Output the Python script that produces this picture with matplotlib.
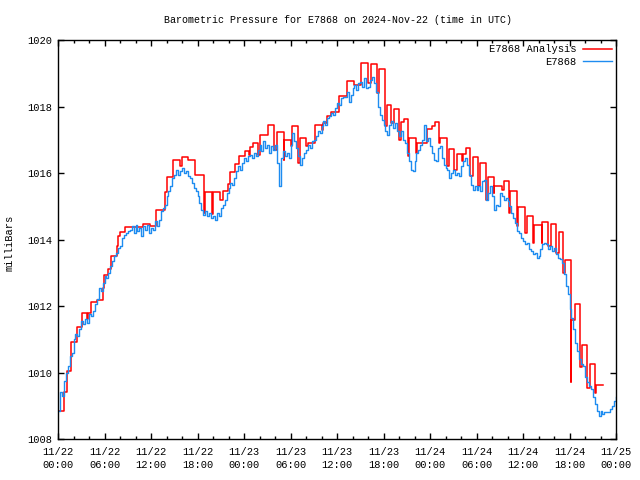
import numpy as np
import matplotlib

matplotlib.use("Agg")
import matplotlib.pyplot as plt
from matplotlib.ticker import FixedLocator, MultipleLocator

TITLE = "Barometric Pressure for E7868 on 2024-Nov-22 (time in UTC)"
LABEL_OBS = "E7868"
LABEL_ANA = "E7868 Analysis"

# x axis: hours since 2024-11-22 00:00 UTC
tick_hours = [0, 6, 12, 18, 24, 30, 36, 42, 48, 54, 60, 66, 72]
tick_labels = [
    "11/22\n00:00", "11/22\n06:00", "11/22\n12:00", "11/22\n18:00",
    "11/23\n00:00", "11/23\n06:00", "11/23\n12:00", "11/23\n18:00",
    "11/24\n00:00", "11/24\n06:00", "11/24\n12:00", "11/24\n18:00",
    "11/25\n00:00",
]

# station readings, one every 15 min (4 per row = 1 hour)
obs_step_h = 0.25
obs_mb = [
    1008.85, 1009.40, 1009.30, 1009.75,  # 00h
    1010.00, 1010.20, 1010.50, 1010.60,
    1011.00, 1011.15, 1011.10, 1011.30,
    1011.55, 1011.45, 1011.60, 1011.50,
    1011.75, 1011.70, 1011.85, 1012.05,
    1012.20, 1012.55, 1012.45, 1012.70,
    1012.90, 1012.85, 1013.00, 1013.20,  # 06h
    1013.35, 1013.50, 1013.60, 1013.75,
    1013.80, 1014.05, 1014.15, 1014.20,
    1014.25, 1014.30, 1014.40, 1014.20,
    1014.45, 1014.25, 1014.35, 1014.10,
    1014.40, 1014.30, 1014.45, 1014.20,
    1014.35, 1014.30, 1014.55, 1014.40,  # 12h
    1014.60, 1014.85, 1014.95, 1015.05,
    1015.30, 1015.45, 1015.60, 1015.85,
    1015.95, 1016.10, 1015.95, 1016.05,
    1016.15, 1016.00, 1016.05, 1015.90,
    1015.85, 1015.70, 1015.55, 1015.45,
    1015.30, 1015.10, 1014.90, 1014.75,  # 18h
    1014.85, 1014.70, 1014.80, 1014.65,
    1014.70, 1014.60, 1014.80, 1014.70,
    1014.95, 1015.05, 1015.20, 1015.40,
    1015.55, 1015.70, 1015.65, 1015.85,
    1016.05, 1016.20, 1016.10, 1016.30,
    1016.45, 1016.35, 1016.50, 1016.55,  # 24h
    1016.45, 1016.60, 1016.50, 1016.70,
    1016.85, 1016.65, 1016.95, 1016.75,
    1016.85, 1016.60, 1016.80, 1016.70,
    1016.85, 1016.30, 1015.60, 1016.45,
    1016.65, 1016.50, 1016.60, 1016.45,
    1016.85, 1017.20, 1016.95, 1016.75,  # 30h
    1016.50, 1016.25, 1016.45, 1016.60,
    1016.70, 1016.85, 1016.75, 1016.95,
    1017.00, 1017.10, 1017.25, 1017.20,
    1017.40, 1017.55, 1017.45, 1017.65,
    1017.70, 1017.80, 1017.75, 1017.95,
    1018.10, 1018.05, 1018.25, 1018.30,  # 36h
    1018.30, 1018.45, 1018.15, 1018.35,
    1018.55, 1018.65, 1018.50, 1018.70,
    1018.75, 1018.60, 1018.85, 1018.55,
    1018.60, 1018.80, 1018.90, 1018.70,
    1018.45, 1018.00, 1017.75, 1017.60,
    1017.45, 1017.25, 1017.15, 1017.45,  # 42h
    1017.55, 1017.35, 1017.50, 1017.25,
    1017.10, 1017.25, 1017.00, 1016.90,
    1016.60, 1016.35, 1016.10, 1016.05,
    1016.35, 1016.60, 1016.70, 1016.85,
    1017.00, 1017.45, 1016.95, 1017.05,
    1016.80, 1016.60, 1016.40, 1016.35,  # 48h
    1016.75, 1016.80, 1016.45, 1016.25,
    1016.15, 1016.10, 1015.85, 1016.00,
    1016.10, 1015.95, 1016.00, 1015.90,
    1016.20, 1016.35, 1016.45, 1016.25,
    1015.95, 1015.65, 1015.50, 1015.60,
    1015.50, 1015.60, 1015.45, 1015.75,  # 54h
    1015.80, 1015.20, 1015.40, 1015.60,
    1015.30, 1014.90, 1015.05, 1015.00,
    1015.40, 1015.30, 1015.20, 1015.25,
    1015.15, 1015.00, 1014.80, 1014.65,
    1014.50, 1014.25, 1014.20, 1014.05,
    1013.95, 1013.85, 1013.90, 1013.70,  # 60h
    1013.65, 1013.55, 1013.60, 1013.45,
    1013.50, 1013.70, 1013.85, 1013.90,
    1013.85, 1013.70, 1013.80, 1013.65,
    1013.75, 1013.55, 1013.45, 1013.40,
    1013.30, 1012.95, 1012.60, 1012.35,
    1011.90, 1011.65, 1011.30, 1010.90,  # 66h
    1010.65, 1010.40, 1010.25, 1010.20,
    1009.85, 1009.70, 1009.60, 1009.50,
    1009.25, 1009.05, 1008.85, 1008.70,
    1008.85, 1008.75, 1008.80, 1008.80,
    1008.80, 1008.90, 1009.00, 1009.15,
    1009.25,                              # 72h
]

# analysis: step start (hours) and value held until the next start
ana_start_h = [
    0.0, 0.77, 1.12, 1.67, 2.5, 3.05, 3.7, 3.9, 4.2, 5.0,
    5.76, 5.9, 6.4, 6.9, 7.57, 7.78, 8.0, 8.64, 11.0, 11.9,
    12.7, 13.8, 14.0, 14.9, 15.7, 15.96, 16.8, 17.7, 18.9, 19.0,
    19.9, 20.05, 20.9, 21.3, 21.9, 22.2, 22.8, 23.3, 24.1, 24.6,
    24.8, 25.2, 25.85, 26.0, 27.1, 27.9, 28.3, 29.1, 29.2, 30.1,
    30.2, 31.0, 31.2, 31.96, 32.2, 33.2, 34.0, 34.2, 34.7, 35.2,
    36.2, 37.25, 38.2, 39.1, 40.0, 40.4, 41.1, 41.4, 42.2, 42.4,
    43.0, 43.4, 44.0, 44.3, 44.7, 45.1, 45.3, 46.2, 46.3, 47.6,
    48.3, 48.6, 49.1, 49.3, 50.2, 50.4, 51.1, 51.45, 52.1, 52.3,
    52.65, 53.2, 53.5, 54.2, 54.5, 55.2, 55.5, 56.2, 56.3, 57.25,
    57.5, 58.2, 58.3, 59.2, 59.4, 60.3, 60.5, 61.3, 61.4, 62.4,
    62.5, 63.2, 63.6, 64.2, 64.6, 65.2, 65.4, 66.15, 66.25, 66.7,
    67.35, 67.6, 68.3, 68.6, 69.3, 69.4, 70.3,
]
ana_mb = [
    1008.85, 1009.40, 1010.05, 1010.92, 1011.37, 1011.80, 1011.60, 1011.80, 1012.12, 1012.17,
    1012.55, 1012.93, 1013.10, 1013.50, 1013.80, 1014.12, 1014.22, 1014.38, 1014.48, 1014.42,
    1014.88, 1015.43, 1015.88, 1016.40, 1016.20, 1016.48, 1016.40, 1015.95, 1014.80, 1015.43,
    1014.78, 1015.43, 1015.18, 1015.45, 1015.68, 1016.03, 1016.28, 1016.50, 1016.67, 1016.55,
    1016.78, 1016.90, 1016.55, 1017.13, 1017.45, 1016.70, 1017.23, 1016.40, 1017.00, 1016.80,
    1017.42, 1016.30, 1017.06, 1016.80, 1016.91, 1017.45, 1017.30, 1017.50, 1017.70, 1017.83,
    1018.32, 1018.78, 1018.65, 1019.30, 1018.70, 1019.27, 1018.40, 1019.13, 1017.40, 1018.05,
    1017.50, 1017.93, 1017.00, 1017.53, 1017.63, 1016.50, 1017.05, 1016.60, 1016.90, 1017.31,
    1017.40, 1017.53, 1016.90, 1017.06, 1016.20, 1016.73, 1016.10, 1016.58, 1016.35, 1016.58,
    1016.76, 1015.90, 1016.49, 1015.60, 1016.29, 1015.20, 1015.89, 1015.40, 1015.60, 1015.50,
    1015.77, 1014.80, 1015.47, 1014.40, 1014.98, 1014.20, 1014.70, 1013.90, 1014.43, 1013.90,
    1014.53, 1013.80, 1014.48, 1013.60, 1014.23, 1013.00, 1013.38, 1009.72, 1011.57, 1012.05,
    1010.17, 1010.82, 1009.52, 1010.25, 1009.37, 1009.62, 1009.62,
]

FONT = ["Liberation Mono", "DejaVu Sans Mono"]
FS = 7.5
plt.rcParams["font.family"] = FONT
plt.rcParams["font.size"] = FS

obs_h = np.arange(len(obs_mb)) * obs_step_h

fig = plt.figure(figsize=(6.4, 4.8), dpi=100)
ax = fig.add_axes([58 / 640, 41 / 480, 558 / 640, 399 / 480])

ax.plot(ana_start_h, ana_mb, drawstyle="steps-post", color="#ff0000", lw=1.1,
        label=LABEL_ANA)
ax.plot(obs_h, obs_mb, drawstyle="steps-post", color="#1e8cf0", lw=1.0,
        label=LABEL_OBS)

ax.set_xlim(0, 72)
ax.set_ylim(1008, 1020)
ax.xaxis.set_major_locator(FixedLocator(tick_hours))
ax.set_xticklabels(tick_labels, linespacing=1.35)
ax.xaxis.set_minor_locator(MultipleLocator(2))
ax.yaxis.set_major_locator(MultipleLocator(2))

ax.tick_params(which="both", direction="in", top=True, right=True,
               colors="black", width=1.0)
ax.tick_params(which="major", length=4.5)
ax.tick_params(which="minor", length=2.5)
ax.tick_params(axis="x", which="major", pad=6)
ax.tick_params(axis="y", which="major", pad=4)
for s in ax.spines.values():
    s.set_linewidth(1.0)
    s.set_color("black")

fig.text(338 / 640, 1 - 20 / 480, TITLE, ha="center", va="center", fontsize=7.2)
fig.text(10 / 640, 1 - 243 / 480, "milliBars", ha="center", va="center",
         rotation=90, fontsize=FS)

ax.legend(loc="upper right", frameon=False, markerfirst=False,
          handlelength=2.8, handletextpad=0.6, labelspacing=0.25,
          borderaxespad=0.2, borderpad=0.2, fontsize=FS)

fig.savefig("out.png", dpi=100)
